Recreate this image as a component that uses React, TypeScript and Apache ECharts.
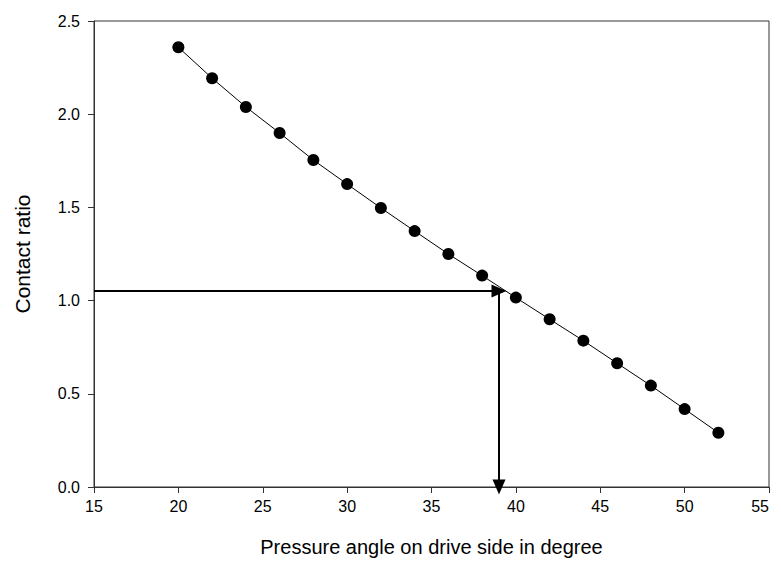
import React, { useEffect, useRef } from "react";
import * as echarts from "echarts";

// Pressure angle on drive side (deg) vs. contact ratio
const pressureAngles = [20, 22, 24, 26, 28, 30, 32, 34, 36, 38, 40, 42, 44, 46, 48, 50, 52];
const contactRatios = [2.359, 2.193, 2.039, 1.899, 1.754, 1.625, 1.497, 1.373, 1.25, 1.134, 1.016, 0.9, 0.785, 0.664, 0.544, 0.418, 0.291];

// Reading guide: required contact ratio -> pressure angle
const guideRatio = 1.052;
const guideAngle = 39;
const xMin = 15;
const xMax = 55;
const yMin = 0;
const yMax = 2.5;

export default function App() {
  const ref = useRef<HTMLDivElement>(null);

  useEffect(() => {
    if (!ref.current) return;
    const chart = echarts.init(ref.current, null, { renderer: "svg" });
    const axisColor = "#333";
    const font = "'Liberation Sans', Arial, sans-serif";
    chart.setOption({
      animation: false,
      backgroundColor: "#fff",
      grid: {
        left: 94,
        right: 12,
        top: 21,
        bottom: 78,
        show: true,
        borderColor: axisColor,
        borderWidth: 1,
      },
      xAxis: {
        type: "value",
        min: xMin,
        max: xMax,
        interval: 5,
        name: "Pressure angle on drive side in degree",
        nameLocation: "middle",
        nameGap: 50,
        nameTextStyle: { fontFamily: font, fontSize: 20, color: "#000" },
        axisLine: { show: true, lineStyle: { color: axisColor, width: 1 } },
        axisTick: { show: true, length: 6, lineStyle: { color: axisColor } },
        axisLabel: {
          fontFamily: font,
          fontSize: 16,
          color: "#000",
          margin: 11,
          alignMaxLabel: "right",
        },
        splitLine: { show: false },
      },
      yAxis: {
        type: "value",
        min: yMin,
        max: yMax,
        interval: 0.5,
        name: "Contact ratio",
        nameLocation: "middle",
        nameGap: 61,
        nameTextStyle: { fontFamily: font, fontSize: 21, color: "#000" },
        axisLine: { show: true, lineStyle: { color: axisColor, width: 1 } },
        axisTick: { show: true, length: 6, lineStyle: { color: axisColor } },
        axisLabel: {
          fontFamily: font,
          fontSize: 16,
          color: "#000",
          margin: 14,
          formatter: (v: number) => v.toFixed(1),
        },
        splitLine: { show: false },
      },
      series: [
        {
          type: "line",
          data: pressureAngles.map((a, i) => [a, contactRatios[i]]),
          symbol: "circle",
          symbolSize: 12,
          itemStyle: { color: "#000" },
          lineStyle: { color: "#000", width: 1 },
          markLine: {
            silent: true,
            animation: false,
            label: { show: false },
            lineStyle: { color: "#000", width: 2, type: "solid" },
            symbolSize: [13, 15],
            data: [
              [
                { coord: [xMin, guideRatio], symbol: "none" },
                { coord: [guideAngle, guideRatio], symbol: "triangle" },
              ],
              [
                { coord: [guideAngle, guideRatio], symbol: "none" },
                { coord: [guideAngle, yMin], symbol: "triangle" },
              ],
            ],
          },
        },
      ],
    });
    return () => chart.dispose();
  }, []);

  return (
    <div
      ref={ref}
      style={{ position: "fixed", left: 0, top: 0, width: 781, height: 565 }}
    />
  );
}
